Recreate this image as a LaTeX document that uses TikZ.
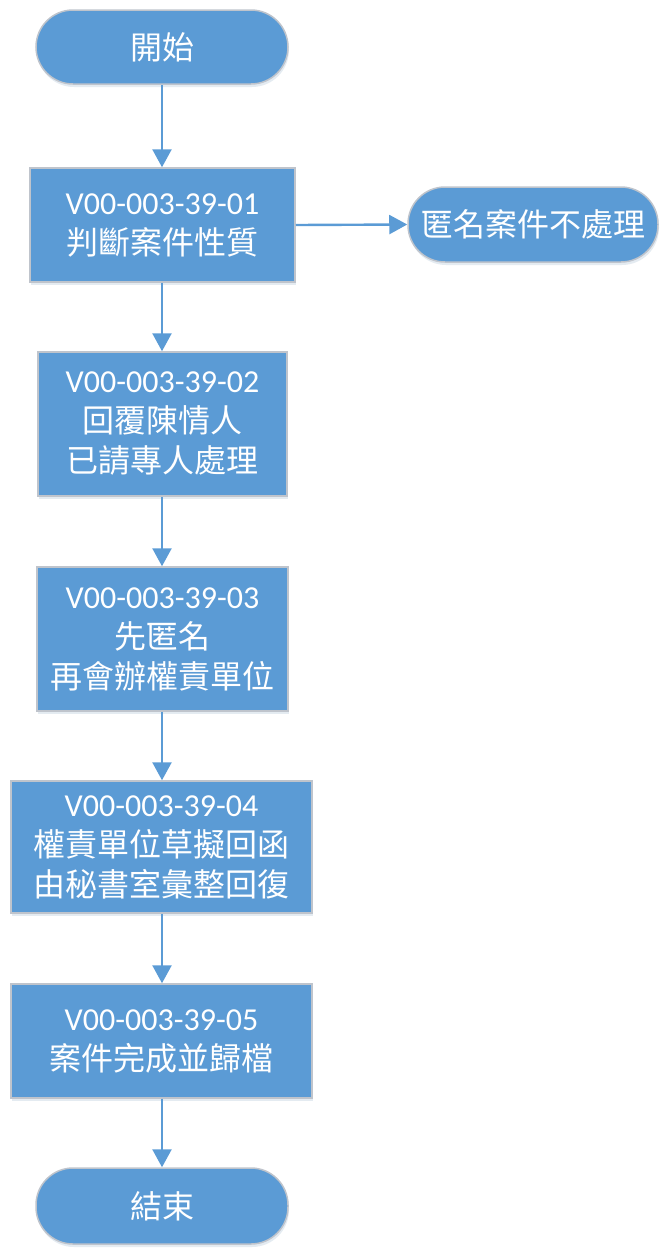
\documentclass[tikz,border=0pt]{standalone}
\usepackage{fontspec}
\setmainfont{Carlito}
\newfontfamily\cjk{Noto Sans CJK TC}
\usetikzlibrary{arrows.meta,shadows}
\definecolor{fillblue}{HTML}{5B9BD5}
\definecolor{edgegray}{HTML}{BFC4CC}
\begin{document}
\begin{tikzpicture}[x=1pt,y=-1pt,
  base/.style={draw=edgegray, line width=1.5pt, fill=fillblue, text=white,
    font=\fontsize{32}{40}\selectfont, align=center, inner sep=0pt,
    drop shadow={shadow xshift=1pt, shadow yshift=-3pt, opacity=0.18, fill=fillblue!60!gray}},
  stepbox/.style={base, rectangle},
  term/.style={base, rectangle, rounded corners=37pt},
  conn/.style={draw=fillblue, line width=2.4pt, -{Triangle[width=19pt,length=18pt]}}
]
\useasboundingbox (0,0) rectangle (660,1248);
\node[term, minimum width=252pt, minimum height=74pt] (start) at (162,47) {\cjk 開始};
\node[stepbox, minimum width=265pt, minimum height=114pt] (b1) at (162.5,225) {V00-003-39-01\\{\cjk 判斷案件性質}};
\node[term, minimum width=250pt, minimum height=75pt] (anon) at (533,224.5) {\cjk 匿名案件不處理};
\node[stepbox, minimum width=249pt, minimum height=144pt] (b2) at (162.5,424) {V00-003-39-02\\{\cjk 回覆陳情人}\\{\cjk 已請專人處理}};
\node[stepbox, minimum width=251pt, minimum height=144pt] (b3) at (162.5,639) {V00-003-39-03\\{\cjk 先匿名}\\{\cjk 再會辦權責單位}};
\node[stepbox, minimum width=301pt, minimum height=132pt] (b4) at (161.5,847) {V00-003-39-04\\{\cjk 權責單位草擬回函}\\{\cjk 由秘書室彙整回復}};
\node[stepbox, minimum width=301pt, minimum height=114pt] (b5) at (161.5,1041) {V00-003-39-05\\{\cjk 案件完成並歸檔}};
\node[term, minimum width=252pt, minimum height=76pt] (end) at (162,1206) {\cjk 結束};
\draw[conn] (start.south) -- (start.south |- b1.north);
\draw[conn] (b1.east) -- (anon.west);
\draw[conn] (b1.south -| start.south) -- (start.south |- b2.north);
\draw[conn] (b2.south -| start.south) -- (start.south |- b3.north);
\draw[conn] (b3.south -| start.south) -- (start.south |- b4.north);
\draw[conn] (b4.south -| start.south) -- (start.south |- b5.north);
\draw[conn] (b5.south -| start.south) -- (end.north);
\end{tikzpicture}
\end{document}
